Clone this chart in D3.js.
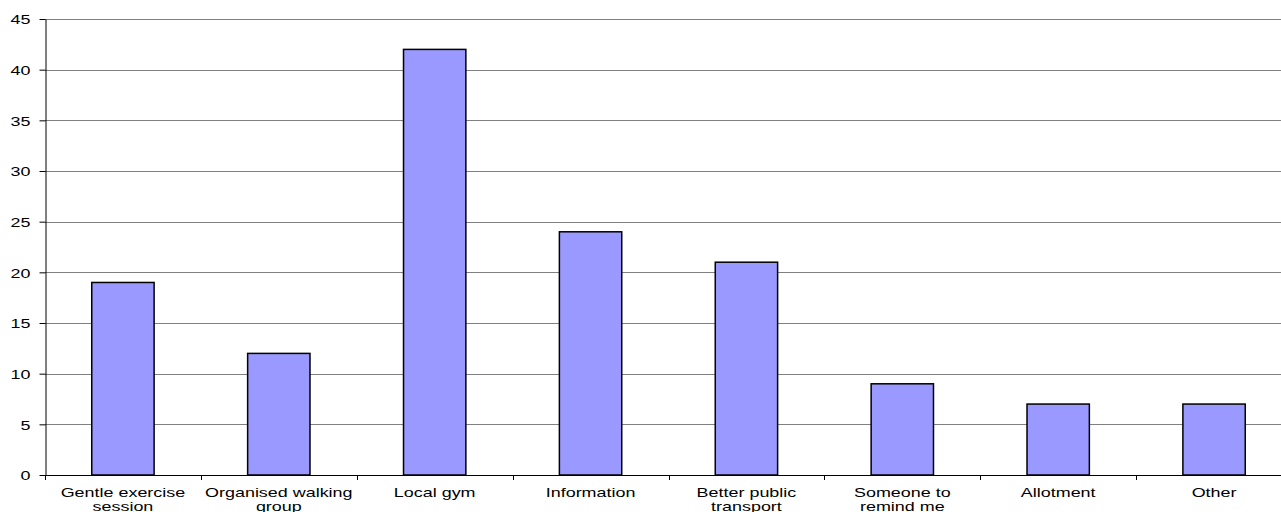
<!DOCTYPE html>
<html>
<head>
<meta charset="utf-8">
<script src="https://cdn.jsdelivr.net/npm/d3@7"></script>
<style>
  body { margin: 0; background: #fff; }
  svg { display: block; }
  text { font-family: "Liberation Sans", Arial, sans-serif; fill: #000; }
</style>
</head>
<body>
<div id="chart"></div>
<script>
// chart data
const categories = ["Gentle exercise session", "Organised walking group", "Local gym", "Information",
  "Better public transport", "Someone to remind me", "Allotment", "Other"];
const categoryLines = [["Gentle exercise", "session"], ["Organised walking", "group"], ["Local gym"], ["Information"],
  ["Better public", "transport"], ["Someone to", "remind me"], ["Allotment"], ["Other"]];
const counts = [19, 12, 42, 24, 21, 9, 7, 7];
const yTicks = [0, 5, 10, 15, 20, 25, 30, 35, 40, 45];

const W = 1281, H = 512;
const margin = {top: 19, right: -11, bottom: 37, left: 45};
const stretch = 1.38; // text in the original is widened horizontally

const svg = d3.select("#chart").append("svg")
  .attr("width", W)
  .attr("height", H);

const xScale = d3.scaleBand(categories, [margin.left, W - margin.right])
  .paddingInner(0.6).paddingOuter(0.3);
const yScale = d3.scaleLinear([0, 45], [H - margin.bottom, margin.top]);

// gridlines
svg.append("g")
  .selectAll("line")
  .data(yTicks.filter(d => d > 0))
  .join("line")
    .attr("x1", margin.left)
    .attr("x2", W - margin.right)
    .attr("y1", d => Math.round(yScale(d)) + 0.5)
    .attr("y2", d => Math.round(yScale(d)) + 0.5)
    .attr("stroke", "#808080")
    .attr("stroke-width", 1);

// bars
svg.append("g")
  .selectAll("rect")
  .data(counts)
  .join("rect")
    .attr("x", (d, i) => xScale(categories[i]))
    .attr("y", d => yScale(d))
    .attr("width", xScale.bandwidth())
    .attr("height", d => yScale(0) - yScale(d))
    .attr("fill", "#9999ff")
    .attr("stroke", "#000")
    .attr("stroke-width", 1.5);

// y axis
const yAxis = svg.append("g")
  .attr("transform", `translate(${margin.left + 0.5},0)`)
  .call(d3.axisLeft(yScale).tickValues(yTicks).tickSize(6).tickPadding(0).tickSizeOuter(0));
yAxis.select(".domain").attr("stroke", "#000");
yAxis.selectAll(".tick line").attr("stroke", "#000");
yAxis.selectAll(".tick text")
  .attr("font-size", 13)
  .attr("x", null)
  .attr("dy", "0.36em")
  .attr("transform", `translate(-15,0) scale(${stretch},1)`);

// x axis
const step = xScale.step();
const bounds = d3.range(categories.length + 1).map(i => margin.left + i * step);
svg.append("line")
  .attr("x1", margin.left)
  .attr("x2", W - margin.right)
  .attr("y1", Math.round(yScale(0)) + 0.5)
  .attr("y2", Math.round(yScale(0)) + 0.5)
  .attr("stroke", "#000");
svg.append("g")
  .selectAll("line")
  .data(bounds)
  .join("line")
    .attr("x1", d => Math.round(d) + 0.5)
    .attr("x2", d => Math.round(d) + 0.5)
    .attr("y1", yScale(0))
    .attr("y2", yScale(0) + 5)
    .attr("stroke", "#000");

const labels = svg.append("g")
  .selectAll("g")
  .data(categoryLines)
  .join("g")
    .attr("transform", (d, i) => `translate(${xScale(categories[i]) + xScale.bandwidth() / 2},${yScale(0) + 22}) scale(${stretch},1)`);
labels.selectAll("text")
  .data(d => d)
  .join("text")
    .attr("y", (d, j) => j * 14.5)
    .attr("text-anchor", "middle")
    .attr("font-size", 13)
    .text(d => d);
</script>
</body>
</html>
